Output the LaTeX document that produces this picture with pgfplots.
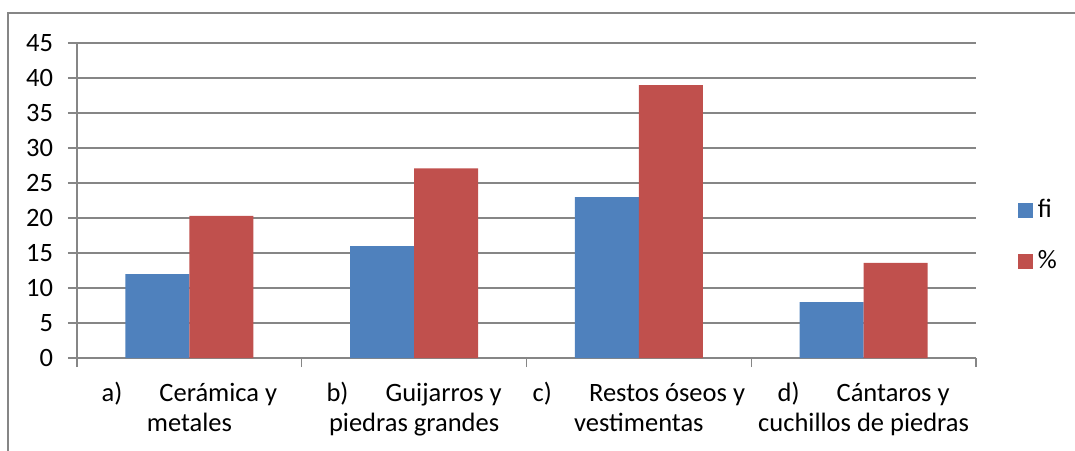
\documentclass[border=0pt]{standalone}
\usepackage{fontspec}
\setmainfont{Carlito}
\usepackage{pgfplots}
\pgfplotsset{compat=1.18}
\definecolor{serieA}{HTML}{4F81BD}
\definecolor{serieB}{HTML}{C0504D}
\definecolor{rejilla}{HTML}{868686}
\begin{document}
\fontsize{26.5}{30}\selectfont
\begin{tikzpicture}[font=\fontsize{26.5}{30}\selectfont]
\useasboundingbox (-77pt,-92pt) rectangle (998pt,358pt);
\begin{axis}[
  at={(0pt,0pt)}, anchor=south west,
  scale only axis, width=899pt, height=315pt,
  xmin=-0.5, xmax=3.5, ymin=0, ymax=45,
  ytick={0,5,...,45},
  xtick={0,1,2,3},
  minor xtick={-0.5,0.5,1.5,2.5,3.5},
  major x tick style={draw=none},
  xticklabels={%
    {a)\hspace{1.4em}Cerámica y\\metales},
    {b)\hspace{1.4em}Guijarros y\\piedras grandes},
    {c)\hspace{1.4em}Restos óseos y\\vestimentas},
    {d)\hspace{1.4em}Cántaros y\\cuchillos de piedras}},
  xticklabel style={align=center, yshift=-6pt},
  yticklabel style={xshift=-6pt},
  /pgf/number format/assume math mode=true,
  axis x line*=bottom, axis y line*=left,
  axis line style={rejilla, line width=1.3pt, -},
  ymajorgrids, grid style={rejilla, line width=1.3pt},
  tick align=outside, tick style={rejilla, line width=1.3pt},
  major tick length=9pt, minor tick length=9pt,
  ybar=0pt, bar width=64pt,
  legend style={at={(1.043,0.387)}, anchor=west, draw=none, fill=none,
    row sep=19pt, nodes={inner sep=5pt}},
  legend cell align=left,
  legend image code/.code={\fill[#1] (0pt,-7.5pt) rectangle (15pt,7.5pt);},
]
\addplot[fill=serieA, draw=none] coordinates {(0,12) (1,16) (2,23) (3,8)};
\addplot[fill=serieB, draw=none] coordinates {(0,20.3) (1,27.1) (2,39.0) (3,13.6)};
\legend{fi,\%}
\end{axis}
\draw[rejilla, line width=1.3pt] (-69pt,-95pt) -- (-69pt,345pt) -- (1000pt,345pt);
\end{tikzpicture}
\end{document}
